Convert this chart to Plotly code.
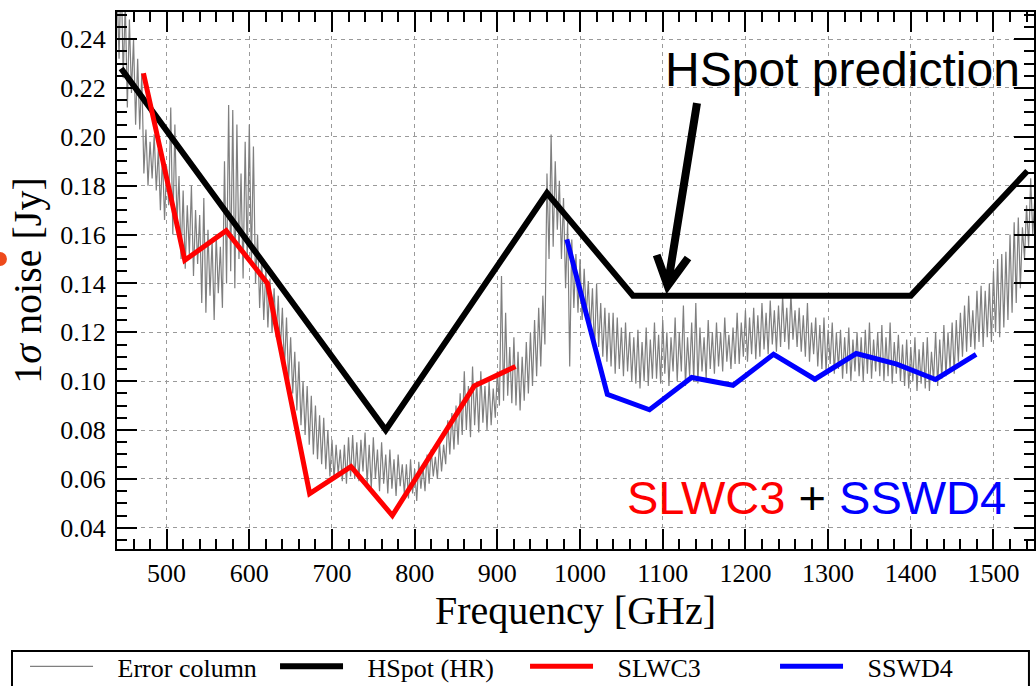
import plotly.graph_objects as go

# ---------------- data ----------------
err_start, err_step = 440, 2.5
err_values = [
    0.262, 0.232, 0.270, 0.224, 0.255, 0.212, 0.248, 0.218, 0.240, 0.205,
    0.232, 0.203, 0.226, 0.185, 0.203, 0.180, 0.198, 0.183, 0.201, 0.178,
    0.195, 0.170, 0.192, 0.166, 0.188, 0.172, 0.212, 0.160, 0.205, 0.165,
    0.184, 0.150, 0.178, 0.146, 0.172, 0.152, 0.180, 0.143, 0.170, 0.148,
    0.168, 0.132, 0.175, 0.128, 0.162, 0.135, 0.158, 0.125, 0.160, 0.136,
    0.155, 0.130, 0.190, 0.140, 0.213, 0.145, 0.211, 0.138, 0.205, 0.150,
    0.185, 0.142, 0.198, 0.150, 0.205, 0.148, 0.196, 0.140, 0.160, 0.130,
    0.150, 0.125, 0.146, 0.122, 0.142, 0.120, 0.138, 0.118, 0.135, 0.112,
    0.130, 0.105, 0.126, 0.100, 0.118, 0.095, 0.112, 0.088, 0.108, 0.082,
    0.100, 0.078, 0.098, 0.074, 0.094, 0.070, 0.090, 0.068, 0.086, 0.066,
    0.085, 0.064, 0.080, 0.061, 0.076, 0.060, 0.074, 0.062, 0.072, 0.059,
    0.074, 0.058, 0.077, 0.061, 0.078, 0.060, 0.075, 0.059, 0.076, 0.063,
    0.079, 0.058, 0.074, 0.056, 0.077, 0.060, 0.072, 0.055, 0.075, 0.058,
    0.070, 0.054, 0.072, 0.056, 0.068, 0.053, 0.070, 0.057, 0.066, 0.054,
    0.066, 0.052, 0.068, 0.054, 0.064, 0.051, 0.067, 0.056, 0.065, 0.055,
    0.070, 0.058, 0.072, 0.061, 0.069, 0.060, 0.075, 0.063, 0.074, 0.066,
    0.084, 0.070, 0.087, 0.072, 0.090, 0.074, 0.095, 0.078, 0.104, 0.080,
    0.098, 0.077, 0.106, 0.082, 0.100, 0.079, 0.104, 0.083, 0.098, 0.080,
    0.100, 0.082, 0.097, 0.085, 0.104, 0.090, 0.143, 0.092, 0.128, 0.094,
    0.114, 0.091, 0.118, 0.090, 0.112, 0.088, 0.110, 0.092, 0.116, 0.095,
    0.120, 0.098, 0.125, 0.102, 0.130, 0.106, 0.135, 0.115, 0.185, 0.150,
    0.201, 0.155, 0.190, 0.162, 0.182, 0.150, 0.175, 0.138, 0.165, 0.106,
    0.158, 0.130, 0.152, 0.128, 0.150, 0.125, 0.146, 0.127, 0.141, 0.120,
    0.138, 0.112, 0.140, 0.114, 0.132, 0.110, 0.130, 0.108, 0.128, 0.106,
    0.128, 0.103, 0.126, 0.105, 0.122, 0.102, 0.124, 0.104, 0.120, 0.100,
    0.118, 0.099, 0.121, 0.097, 0.116, 0.100, 0.122, 0.098, 0.117, 0.101,
    0.124, 0.101, 0.119, 0.099, 0.125, 0.103, 0.120, 0.098, 0.118, 0.104,
    0.126, 0.100, 0.120, 0.104, 0.131, 0.098, 0.118, 0.102, 0.124, 0.100,
    0.132, 0.099, 0.122, 0.104, 0.118, 0.101, 0.125, 0.105, 0.120, 0.103,
    0.124, 0.106, 0.120, 0.104, 0.126, 0.108, 0.119, 0.105, 0.122, 0.107,
    0.128, 0.107, 0.124, 0.110, 0.129, 0.108, 0.126, 0.111, 0.130, 0.109,
    0.127, 0.110, 0.132, 0.113, 0.128, 0.111, 0.133, 0.115, 0.129, 0.112,
    0.131, 0.114, 0.135, 0.116, 0.130, 0.113, 0.136, 0.117, 0.129, 0.114,
    0.130, 0.112, 0.127, 0.110, 0.132, 0.108, 0.124, 0.111, 0.126, 0.106,
    0.123, 0.105, 0.126, 0.104, 0.121, 0.107, 0.124, 0.103, 0.120, 0.105,
    0.121, 0.101, 0.118, 0.103, 0.122, 0.100, 0.117, 0.104, 0.120, 0.102,
    0.118, 0.100, 0.121, 0.103, 0.124, 0.101, 0.117, 0.104, 0.120, 0.102,
    0.123, 0.100, 0.118, 0.102, 0.124, 0.099, 0.116, 0.103, 0.119, 0.100,
    0.115, 0.098, 0.117, 0.097, 0.114, 0.100, 0.118, 0.096, 0.113, 0.099,
    0.116, 0.097, 0.118, 0.096, 0.112, 0.100, 0.120, 0.098, 0.117, 0.101,
    0.123, 0.102, 0.120, 0.105, 0.124, 0.103, 0.125, 0.108, 0.128, 0.110,
    0.131, 0.112, 0.135, 0.114, 0.129, 0.113, 0.137, 0.116, 0.139, 0.114,
    0.137, 0.118, 0.140, 0.116, 0.145, 0.120, 0.150, 0.118, 0.152, 0.122,
    0.153, 0.125, 0.160, 0.128, 0.165, 0.132, 0.167, 0.138, 0.163, 0.150,
    0.172, 0.155, 0.183, 0.160, 0.175,
]
err_freq = [err_start + err_step * i for i in range(len(err_values))]

hspot_freq = [445, 765, 960, 1064, 1400, 1541]
hspot_values = [0.228, 0.080, 0.177, 0.135, 0.135, 0.186]

slw_freq = [472, 522, 572, 622, 673, 723, 773, 872, 922]
slw_values = [0.226, 0.1495, 0.1616, 0.140, 0.054, 0.065, 0.045, 0.098, 0.106]

ssw_freq = [984, 1033, 1084, 1135, 1185, 1234, 1284, 1334, 1383, 1430, 1479]
ssw_values = [0.158, 0.0946, 0.0883, 0.1015, 0.0983, 0.111, 0.1008, 0.1113, 0.107, 0.1007, 0.111]

x_tickvals = [500, 600, 700, 800, 900, 1000, 1100, 1200, 1300, 1400, 1500]
y_tickvals = [0.04, 0.06, 0.08, 0.10, 0.12, 0.14, 0.16, 0.18, 0.20, 0.22, 0.24]

legend_names = ["Error column", "HSpot (HR)", "SLWC3", "SSWD4"]

SERIF = "Liberation Serif"
SANS = "Liberation Sans"
PAD = "\u00a0\u00a0\u00a0"

fig = go.Figure()
fig.add_trace(go.Scatter(x=err_freq, y=err_values, mode="lines", name=PAD + legend_names[0],
                         line=dict(color="#7f7f7f", width=1.2)))
fig.add_trace(go.Scatter(x=hspot_freq, y=hspot_values, mode="lines", name=PAD + legend_names[1],
                         line=dict(color="black", width=6)))
fig.add_trace(go.Scatter(x=slw_freq, y=slw_values, mode="lines", name=PAD + legend_names[2],
                         line=dict(color="#ff0000", width=5)))
fig.add_trace(go.Scatter(x=ssw_freq, y=ssw_values, mode="lines", name=PAD + legend_names[3],
                         line=dict(color="#0000ff", width=5)))

axis_common = dict(
    showline=True, linecolor="black", linewidth=2, mirror="ticks",
    ticks="inside", ticklen=20, tickwidth=1.5, tickcolor="black",
    showgrid=True, gridcolor="#9a9a9a", gridwidth=1, griddash="4px,4px",
    zeroline=False,
    tickfont=dict(family=SERIF, size=26, color="black"),
)

fig.update_xaxes(
    range=[440, 1549], tickvals=x_tickvals,
    minor=dict(dtick=20, tick0=0, ticks="inside", ticklen=10, tickwidth=1.5,
               tickcolor="black", showgrid=False),
    title=dict(text="Frequency [GHz]", font=dict(family=SERIF, size=40, color="black"),
               standoff=0),
    ticklabelstandoff=0,
    **axis_common,
)
fig.update_yaxes(
    range=[0.0313, 0.2511], tickvals=y_tickvals, tickformat=".2f",
    minor=dict(dtick=0.005, tick0=0, ticks="inside", ticklen=10, tickwidth=1.5,
               tickcolor="black", showgrid=False),
    title=dict(text="1<i>σ</i> noise [Jy]", font=dict(family=SERIF, size=40, color="black"),
               standoff=6),
    ticklabelstandoff=4,
    **axis_common,
)

fig.add_annotation(xref="paper", yref="paper", x=0.5954, y=0.892,
                   xanchor="left", yanchor="middle", showarrow=False,
                   text="HSpot prediction",
                   font=dict(family=SANS, size=48, color="black"))
fig.add_annotation(xref="paper", yref="paper", x=0.554, y=0.0968,
                   xanchor="left", yanchor="middle", showarrow=False,
                   text='<span style="color:#ff0000">SLWC3</span> + <span style="color:#0000ff">SSWD4</span>',
                   font=dict(family=SANS, size=47, color="black"))

# arrow pointing at the HSpot plateau
fig.add_shape(type="path", xref="paper", yref="paper",
              path="M0.6325,0.8305 L0.6005,0.4903 M0.5885,0.5475 L0.6005,0.4903 L0.6227,0.5419",
              line=dict(color="black", width=8))

# small orange mark at the left edge
fig.add_shape(type="circle", xref="paper", yref="paper",
              x0=-0.1352, x1=-0.1200, y0=0.5270, y1=0.5530,
              fillcolor="#ee4a1c", line=dict(width=0))

# legend frame
fig.add_shape(type="rect", xref="paper", yref="paper",
              x0=-0.1145, x1=0.9945, y0=-0.1899, y1=-0.30,
              line=dict(color="black", width=2), fillcolor="rgba(0,0,0,0)")

fig.update_layout(
    width=1036, height=686,
    margin=dict(l=117, r=2, t=12, b=137, autoexpand=False),
    paper_bgcolor="white", plot_bgcolor="white",
    showlegend=True,
    legend=dict(orientation="h", x=-0.1003, y=-0.175, xanchor="left", yanchor="top",
                borderwidth=0, bgcolor="rgba(0,0,0,0)",
                font=dict(family=SERIF, size=26, color="black"),
                itemwidth=63, entrywidth=172, entrywidthmode="pixels",
                traceorder="normal"),
)

fig.write_html("out.html")
